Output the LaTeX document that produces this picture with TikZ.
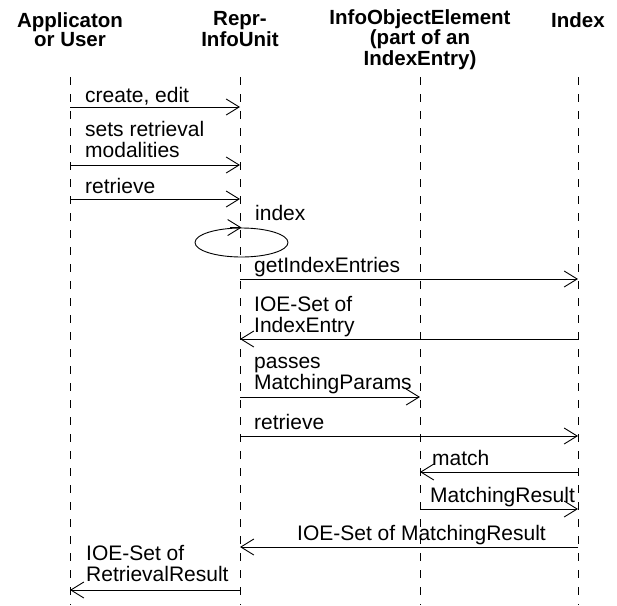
\documentclass[tikz,border=0pt]{standalone}
\usepackage{fontspec}
\setmainfont{Liberation Sans}
\usetikzlibrary{arrows.meta,shapes.geometric}
\begin{document}
\begin{tikzpicture}[x=1pt,y=1pt,
  lifeline/.style={draw=black, line width=0.9pt, dash pattern=on 8pt off 9pt},
  msg/.style={draw=black, line width=0.9pt, -{Straight Barb[length=13pt,width=16pt,line width=0.9pt]}},
  head/.style={font=\fontsize{20.5}{19}\selectfont\bfseries, align=center, anchor=base, inner sep=0pt},
  lbl/.style={font=\fontsize{21}{20.5}\selectfont, align=left, anchor=base west, inner sep=0pt},
]
\useasboundingbox (0,0) rectangle (617,-605);
% headings (anchor = baseline of last line)
\node[head] (hA) at (70,-46) {Applicaton\\or User};
\node[head] (hR) at (240,-46) {Repr-\\InfoUnit};
\node[head] (hI) at (420,-65) {InfoObjectElement\\(part of an\\IndexEntry)};
\node[head] (hX) at (578,-27) {Index};
% lifelines
\coordinate (L1) at (70,-77);  \coordinate (B1) at (70,-605);
\coordinate (L2) at (240,-77); \coordinate (B2) at (240,-605);
\coordinate (L3) at (420,-77); \coordinate (B3) at (420,-605);
\coordinate (L4) at (578,-77); \coordinate (B4) at (578,-605);
\draw[lifeline] (L1) -- (B1);
\draw[lifeline] (L2) -- (B2);
\draw[lifeline] (L3) -- (B3);
\draw[lifeline] (L4) -- (B4);
% message levels
\coordinate (y1) at (0,-107);
\coordinate (y2) at (0,-165);
\coordinate (y3) at (0,-199);
\coordinate (y5) at (0,-279);
\coordinate (y6) at (0,-339);
\coordinate (y7) at (0,-397);
\coordinate (y8) at (0,-436);
\coordinate (y9) at (0,-472);
\coordinate (y10) at (0,-509);
\coordinate (y11) at (0,-547);
\coordinate (y12) at (0,-590);
% messages
\node[lbl] (t1) at (85,-102) {create, edit};
\draw[msg] (L1 |- y1) -- (L2 |- y1);
\node[lbl] (t2) at (85,-157) {sets retrieval\\modalities};
\draw[msg] (L1 |- y2) -- (L2 |- y2);
\node[lbl] (t3) at (85,-193) {retrieve};
\draw[msg] (L1 |- y3) -- (L2 |- y3);
\node[lbl] (t4) at (255,-220) {index};
\node[draw, line width=0.9pt, ellipse, minimum width=93pt, minimum height=29pt, inner sep=0pt] (loop) at (241.5,-242.5) {};
\draw[msg] ([xshift=-12pt]loop.north) -- (loop.north);
\node[lbl] (t5) at (254,-272) {getIndexEntries};
\draw[msg] (L2 |- y5) -- (L4 |- y5);
\node[lbl] (t6) at (254,-332) {IOE-Set of\\IndexEntry};
\draw[msg] (L4 |- y6) -- (L2 |- y6);
\node[lbl] (t7) at (254,-389) {passes\\MatchingParams};
\draw[msg] (L2 |- y7) -- (L3 |- y7);
\node[lbl] (t8) at (254,-429) {retrieve};
\draw[msg] (L2 |- y8) -- (L4 |- y8);
\node[lbl] (t9) at (432,-465) {match};
\draw[msg] (L4 |- y9) -- (L3 |- y9);
\node[lbl] (t10) at (430,-502) {MatchingResult};
\draw[msg] (L3 |- y10) -- (L4 |- y10);
\node[lbl] (t11) at (297,-540) {IOE-Set of MatchingResult};
\draw[msg] (L4 |- y11) -- (L2 |- y11);
\node[lbl] (t12) at (86,-581) {IOE-Set of\\RetrievalResult};
\draw[msg] (L2 |- y12) -- (L1 |- y12);
\end{tikzpicture}
\end{document}
